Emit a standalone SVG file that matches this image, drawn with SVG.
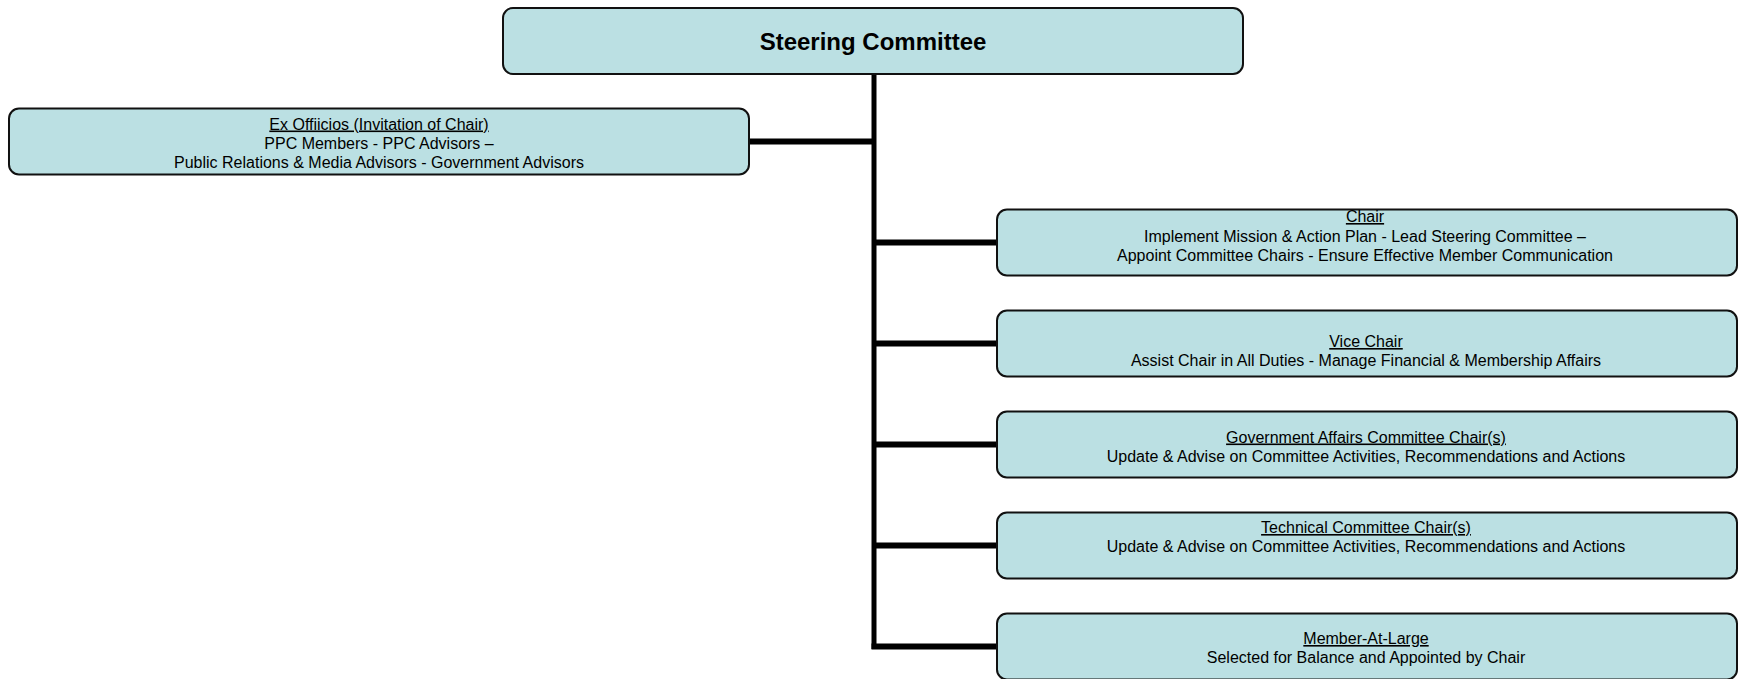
<svg xmlns="http://www.w3.org/2000/svg" width="1741" height="679" viewBox="0 0 1741 679">
<style>
.box{fill:#BBE0E3;stroke:#111;stroke-width:2}
.t{font-family:"Liberation Sans",Arial,sans-serif;font-size:16px;fill:#000;text-anchor:middle}
.h{font-family:"Liberation Sans",Arial,sans-serif;font-size:24px;font-weight:bold;fill:#000;text-anchor:middle}
.u{text-decoration:underline}
.c{fill:none;stroke:#000;stroke-linejoin:miter;stroke-linecap:butt}
</style>
<rect width="1741" height="679" fill="#fff"/>
<g id="connectors">
<line class="c" x1="874" y1="74" x2="874" y2="649" stroke-width="5"/>
<line class="c" x1="749" y1="141.5" x2="874" y2="141.5" stroke-width="6"/>
<line class="c" x1="872" y1="242.5" x2="997" y2="242.5" stroke-width="6"/>
<line class="c" x1="872" y1="343.5" x2="997" y2="343.5" stroke-width="6"/>
<line class="c" x1="872" y1="444.5" x2="997" y2="444.5" stroke-width="6"/>
<line class="c" x1="872" y1="545.5" x2="997" y2="545.5" stroke-width="6"/>
<line class="c" x1="871.5" y1="646.5" x2="997" y2="646.5" stroke-width="6"/>
</g>
<g id="steering">
<rect class="box" x="503" y="8" width="740" height="66" rx="10"/>
<text class="h" x="873" y="50">Steering Committee</text>
</g>
<g id="exofficios">
<rect class="box" x="9" y="108.5" width="740" height="66" rx="10"/>
<text class="t u" x="379" y="129.5">Ex Offiicios (Invitation of Chair)</text>
<text class="t" x="379" y="148.5">PPC Members - PPC Advisors –</text>
<text class="t" x="379" y="167.5">Public Relations &amp; Media Advisors - Government Advisors</text>
</g>
<g id="chair">
<rect class="box" x="997" y="209.5" width="740" height="66" rx="10"/>
<text class="t u" x="1365" y="222">Chair</text>
<text class="t" x="1365" y="242">Implement Mission &amp; Action Plan - Lead Steering Committee –</text>
<text class="t" x="1365" y="261">Appoint Committee Chairs - Ensure Effective Member Communication</text>
</g>
<g id="vicechair">
<rect class="box" x="997" y="310.5" width="740" height="66" rx="10"/>
<text class="t u" x="1366" y="347">Vice Chair</text>
<text class="t" x="1366" y="366">Assist Chair in All Duties - Manage Financial &amp; Membership Affairs</text>
</g>
<g id="govaffairs">
<rect class="box" x="997" y="411.5" width="740" height="66" rx="10"/>
<text class="t u" x="1366" y="442.5">Government Affairs Committee Chair(s)</text>
<text class="t" x="1366" y="461.5">Update &amp; Advise on Committee Activities, Recommendations and Actions</text>
</g>
<g id="technical">
<rect class="box" x="997" y="512.5" width="740" height="66" rx="10"/>
<text class="t u" x="1366" y="533">Technical Committee Chair(s)</text>
<text class="t" x="1366" y="552">Update &amp; Advise on Committee Activities, Recommendations and Actions</text>
</g>
<g id="memberatlarge">
<rect class="box" x="997" y="613.5" width="740" height="66" rx="10"/>
<text class="t u" x="1366" y="644">Member-At-Large</text>
<text class="t" x="1366" y="663">Selected for Balance and Appointed by Chair</text>
</g>
</svg>
